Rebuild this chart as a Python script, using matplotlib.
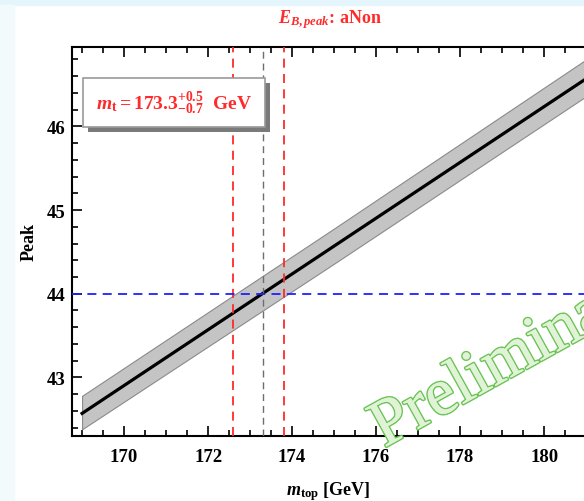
import matplotlib

matplotlib.use("Agg")
import matplotlib.pyplot as plt
import matplotlib.patheffects as pe
from matplotlib.patches import Rectangle
from matplotlib.ticker import MultipleLocator
import numpy as np

# values
mtop = np.array([169.0, 172.0, 175.0, 178.0, 181.0])
peak = np.array([42.57, 43.57, 44.57, 45.57, 46.57])
band_lo = np.array([42.38, 43.37, 44.36, 45.36, 46.36])
band_hi = np.array([42.78, 43.78, 44.78, 45.79, 46.80])
mt_central = 173.3
mt_err_lo = 0.7
mt_err_hi = 0.5
peak_ref = 44.0

RED = "#ff2a2a"

plt.rcParams["font.family"] = ["Liberation Serif", "DejaVu Serif"]
plt.rcParams["font.weight"] = "bold"
plt.rcParams["mathtext.fontset"] = "custom"
plt.rcParams["mathtext.rm"] = "Liberation Serif:bold"
plt.rcParams["mathtext.it"] = "Liberation Serif:italic:bold"
plt.rcParams["mathtext.bf"] = "Liberation Serif:bold"

fig = plt.figure(figsize=(5.84, 5.02), dpi=100)
# slide background strips
fig.patches.append(Rectangle((0, 0.988), 1, 0.012, transform=fig.transFigure,
                             color="#e4f6fb", zorder=0))
fig.patches.append(Rectangle((0, 0), 0.024, 0.988, transform=fig.transFigure,
                             color="#f3fafc", zorder=0))

ax = fig.add_axes([0.1233, 0.1295, 0.8767, 0.775])

ax.fill_between(mtop, band_lo, band_hi, color="#c4c4c4", edgecolor="#8a8a8a",
                linewidth=0.8, zorder=2)
ax.plot(mtop, peak, color="black", linewidth=2.3, zorder=3)

ax.axvline(mt_central - mt_err_lo, color=RED, linestyle=(0, (5, 3.5)), linewidth=1.3, zorder=4)
ax.axvline(mt_central + mt_err_hi, color=RED, linestyle=(0, (5, 3.5)), linewidth=1.3, zorder=4)
ax.axvline(mt_central, color="#6e6e6e", linestyle=(0, (5, 3.5)), linewidth=1.0, zorder=4)
ax.axhline(peak_ref, color="#2020ff", linestyle=(0, (5, 3.5)), linewidth=1.3, zorder=4)

ax.set_xlim(168.76, 180.95)
ax.set_ylim(42.3, 46.95)
ax.xaxis.set_major_locator(MultipleLocator(2))
ax.xaxis.set_minor_locator(MultipleLocator(0.5))
ax.yaxis.set_major_locator(MultipleLocator(1))
ax.yaxis.set_minor_locator(MultipleLocator(0.2))
ax.tick_params(which="both", direction="in", top=True, right=False, width=1.2,
               labelsize=13.5)
ax.tick_params(which="major", length=7)
ax.tick_params(which="minor", length=4)
ax.tick_params(axis="x", which="major", pad=9)
ax.tick_params(axis="y", which="major", pad=5)
for lab in ax.get_xticklabels() + ax.get_yticklabels():
    lab.set_fontweight("bold")
for side in ["left", "bottom", "top"]:
    ax.spines[side].set_linewidth(1.5)
ax.spines["right"].set_visible(False)

ax.set_xlabel(r"$m_{\rm top}$ [GeV]", fontsize=13, fontweight="bold", labelpad=10)
ax.set_ylabel("Peak", fontsize=13, fontweight="bold", labelpad=6)

fig.text(0.565, 0.962, r"$E_{B,peak}$: aNon", color=RED, fontsize=13,
         fontweight="bold", ha="center", va="center")

# legend-like box with drop shadow
bx, by, bw, bh = 0.0215, 0.794, 0.355, 0.126
ax.add_patch(Rectangle((bx + 0.0098, by - 0.0129), bw, bh, transform=ax.transAxes,
                       facecolor="#7a7a7a", edgecolor="none", zorder=5))
ax.add_patch(Rectangle((bx, by), bw, bh, transform=ax.transAxes,
                       facecolor="white", edgecolor="#9a9a9a", linewidth=1.2, zorder=6))
ax.text(bx + bw / 2, by + bh / 2,
        r"$m_{\rm t} = 173.3^{+0.5}_{-0.7}$  GeV",
        transform=ax.transAxes, color=RED, fontsize=14, fontweight="bold",
        ha="center", va="center", zorder=7)

fig.text(0.658, 0.106, "Preliminary", fontsize=48, color="#e0f3d6",
         ha="left", va="baseline", rotation=29, rotation_mode="anchor",
         family="Liberation Serif", fontweight="normal", zorder=10,
         path_effects=[pe.withStroke(linewidth=2.2, foreground="#6cc456"),
                       pe.Normal()])

fig.savefig("out.png", dpi=100)
plt.close(fig)
